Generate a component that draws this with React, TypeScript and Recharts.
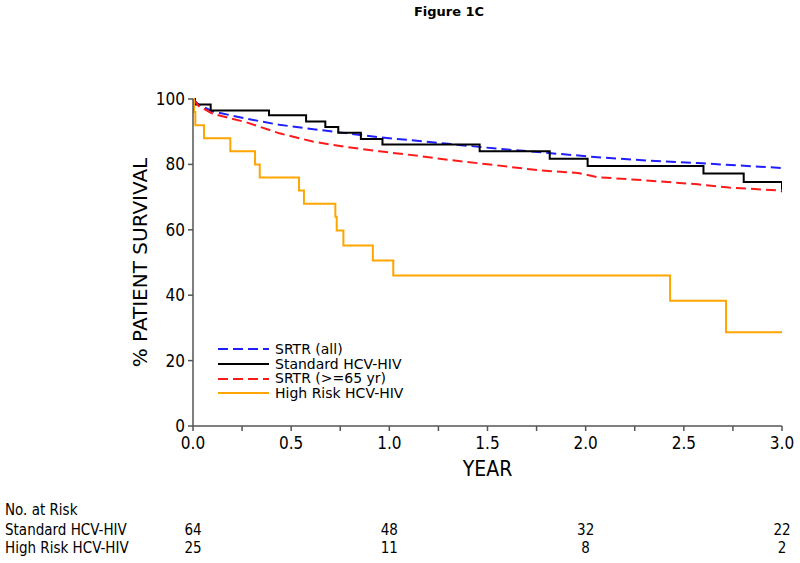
import React from "react";
import { LineChart, Line, XAxis, YAxis, Legend } from "recharts";

// survival curves as [year, % survival]
const srtrAll = [
  [0, 100], [0.03, 98.2], [0.1, 96.2], [0.27, 94], [0.44, 92.1], [0.69, 90.2],
  [0.95, 88.3], [1.3, 86.3], [1.55, 84.8], [1.81, 83.5], [2.06, 82.2],
  [2.31, 81.2], [2.57, 80.4], [3.0, 78.9],
];
const standardHcvHiv = [
  [0, 100], [0.01, 98.3], [0.09, 96.5], [0.387, 95], [0.576, 93.1], [0.674, 91.4],
  [0.74, 89.7], [0.855, 87.8], [0.965, 86.1], [1.46, 84], [1.817, 81.7],
  [2.01, 79.5], [2.6, 77.2], [2.805, 74.6], [3.0, 71.5],
];
const srtr65 = [
  [0, 100], [0.03, 97.8], [0.1, 95.5], [0.27, 92.9], [0.44, 89.5], [0.61, 87],
  [0.78, 85.3], [0.95, 84], [1.15, 82.6], [1.3, 81.4], [1.55, 79.7], [1.76, 78.2],
  [1.96, 77.4], [2.06, 76.1], [2.31, 75.1], [2.57, 73.9], [2.73, 72.9], [3.0, 72],
];
const highRiskHcvHiv = [
  [0, 100], [0.005, 96], [0.012, 92], [0.056, 88], [0.19, 84], [0.316, 80],
  [0.34, 76], [0.54, 72], [0.565, 68], [0.725, 64], [0.732, 59.8], [0.766, 55.2],
  [0.916, 50.6], [1.02, 46], [2.43, 38.3], [2.715, 28.7], [3.0, 28.7],
];

const xTicks = [0, 0.25, 0.5, 0.75, 1, 1.25, 1.5, 1.75, 2, 2.25, 2.5, 2.75, 3];
const yTicks = [0, 20, 40, 60, 80, 100];

// numbers at risk
const riskYears = [0, 1, 2, 3];
const riskStandard = [64, 48, 32, 22];
const riskHigh = [25, 11, 8, 2];

const series = [
  { name: "SRTR (all)", data: srtrAll, color: "#1f1fff", dash: "10 5", type: "linear" },
  { name: "Standard HCV-HIV", data: standardHcvHiv, color: "#000000", dash: undefined, type: "stepAfter" },
  { name: "SRTR (>=65 yr)", data: srtr65, color: "#ff1a1a", dash: "10 5", type: "linear" },
  { name: "High Risk HCV-HIV", data: highRiskHcvHiv, color: "#ffa500", dash: undefined, type: "stepAfter" },
];

const font = "'DejaVu Sans', Verdana, sans-serif";
const narrow = "'DejaVu Sans Condensed', 'DejaVu Sans', sans-serif";

const toPoints = (arr: number[][]) => arr.map(([x, y]) => ({ x, y }));

// x tick: year label on the half years, plus the numbers at risk under the whole years
const XTick = (props: any) => {
  const { x, y, payload } = props;
  const v = payload.value as number;
  const i = riskYears.indexOf(v);
  return (
    <g>
      {v % 0.5 === 0 && (
        <text x={x} y={y} dy="0.71em" textAnchor="middle" fontSize={17} fontFamily={narrow} fill="#000">
          {v.toFixed(1)}
        </text>
      )}
      {i >= 0 && (
        <>
          <text x={x} y={y + 93} dy="0.36em" textAnchor="middle" fontSize={15} fontFamily={narrow} fill="#000">
            {riskStandard[i]}
          </text>
          <text x={x} y={y + 111} dy="0.36em" textAnchor="middle" fontSize={15} fontFamily={narrow} fill="#000">
            {riskHigh[i]}
          </text>
        </>
      )}
    </g>
  );
};

const renderLegend = () => (
  <div style={{ fontFamily: font, fontSize: 14, lineHeight: "14.7px", color: "#000" }}>
    {series.map((s) => (
      <div key={s.name} style={{ display: "flex", alignItems: "center" }}>
        <svg width={52} height={10} style={{ marginRight: 5 }}>
          <line x1={0} y1={5} x2={51} y2={5} stroke={s.color} strokeWidth={2} strokeDasharray={s.dash} />
        </svg>
        <span>{s.name}</span>
      </div>
    ))}
  </div>
);

export default function App() {
  return (
    <div style={{ position: "absolute", left: 0, top: 0, width: 800, height: 563, background: "#fff", fontFamily: font }}>
      <div style={{ position: "absolute", left: 449, top: 4, transform: "translateX(-50%)", fontSize: 13, fontWeight: "bold" }}>
        Figure 1C
      </div>
      <LineChart width={800} height={563} margin={{ top: 99, right: 18, left: 0, bottom: 7 }}>
        <XAxis
          dataKey="x"
          type="number"
          domain={[0, 3]}
          ticks={xTicks}
          allowDataOverflow
          height={130}
          tickSize={5}
          tickMargin={6}
          stroke="#555"
          strokeWidth={1.5}
          tick={<XTick />}
          interval={0}
          label={{ value: "YEAR", position: "insideTop", offset: 35, fill: "#000", fontSize: 21, fontFamily: narrow }}
        />
        <YAxis
          type="number"
          domain={[0, 100]}
          ticks={yTicks}
          width={193}
          tickSize={5}
          tickMargin={3}
          stroke="#555"
          strokeWidth={1.5}
          tick={{ fill: "#000", fontSize: 17, fontFamily: narrow }}
          label={{
            value: "% PATIENT SURVIVAL",
            angle: -90,
            position: "insideLeft",
            offset: 140,
            fill: "#000",
            fontSize: 20,
            fontFamily: font,
            style: { textAnchor: "middle" },
          }}
        />
        <Legend
          layout="horizontal"
          verticalAlign="middle"
          align="center"
          content={renderLegend}
          wrapperStyle={{ position: "absolute", left: 218, top: 342, width: 220 }}
        />
        {series.map((s) => (
          <Line
            key={s.name}
            data={toPoints(s.data)}
            dataKey="y"
            name={s.name}
            type={s.type as "linear" | "stepAfter"}
            stroke={s.color}
            strokeWidth={2}
            strokeDasharray={s.dash}
            dot={false}
            activeDot={false}
            isAnimationActive={false}
          />
        ))}
      </LineChart>
      <div style={{ position: "absolute", left: 5, top: 501, fontSize: 15, lineHeight: "18px", fontFamily: narrow }}>
        <div>No. at Risk</div>
        <div style={{ marginTop: 2 }}>Standard HCV-HIV</div>
        <div>High Risk HCV-HIV</div>
      </div>
    </div>
  );
}
